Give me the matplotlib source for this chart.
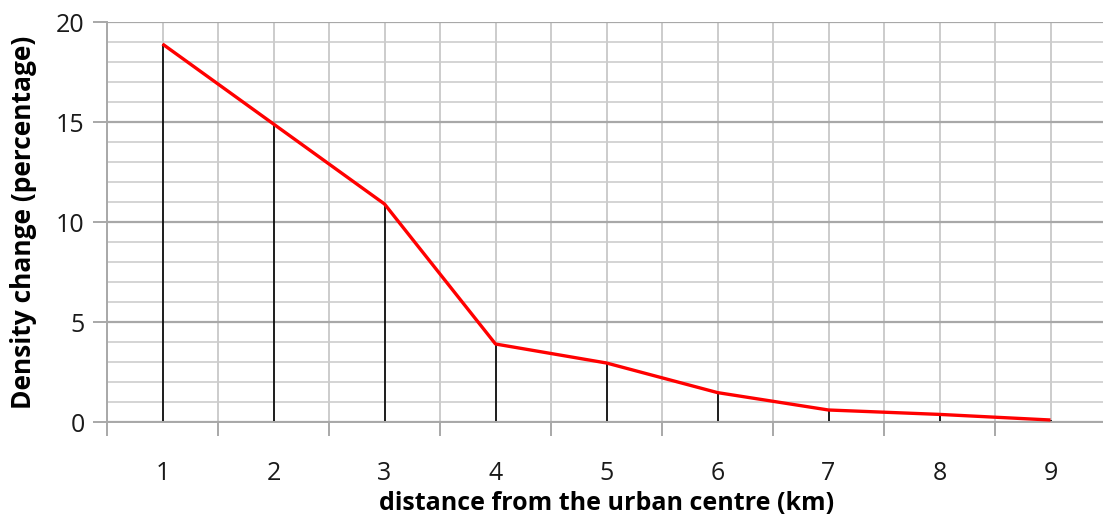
import numpy as np
import matplotlib.pyplot as plt
from matplotlib.ticker import MultipleLocator

# density change by distance band
distance_km = [1, 2, 3, 4, 5, 6, 7, 8, 9]
density_change = [18.9, 14.9, 10.9, 3.9, 2.95, 1.47, 0.6, 0.38, 0.1]
y_ticks = [0, 5, 10, 15, 20]

plt.rcParams['font.family'] = ['Open Sans', 'DejaVu Sans']

fig = plt.figure(figsize=(11.03, 5.18), dpi=100)
ax = fig.add_axes([107 / 1103, 96 / 518, 999 / 1103, 400 / 518])

x = np.array(distance_km)
y = np.array(density_change)

ax.set_xlim(0.5, 9.5)
ax.set_ylim(0, 20)

# grid: light lines every unit / half category, darker at the labelled values
for v in np.arange(1, 20):
    if v % 5:
        ax.axhline(v, color='#d4d4d4', lw=1.4, zorder=0)
for v in y_ticks:
    ax.axhline(v, color='#a8a8a8', lw=1.6, zorder=0.5)
for v in np.arange(0.5, 9.6, 0.5):
    ax.axvline(v, color='#cccccc', lw=1.4, zorder=0)

# drop lines from each point to the axis
ax.vlines(x, 0, y, color='black', lw=1.2, zorder=2)
ax.plot(x, y, color='#ff0000', lw=2.4, zorder=3, solid_capstyle='butt')

for s in ['top', 'right']:
    ax.spines[s].set_visible(False)
for s in ['left', 'bottom']:
    ax.spines[s].set_color('#a8a8a8')
    ax.spines[s].set_linewidth(1.4)

ax.set_yticks(y_ticks)
ax.yaxis.set_minor_locator(MultipleLocator(1))
ax.tick_params(axis='y', which='major', length=10, width=1.4, color='#a8a8a8',
               labelsize=18, labelcolor='#1a1a1a', pad=6)
ax.tick_params(axis='y', which='minor', length=0)

ax.set_xticks(distance_km)
ax.set_xticks(np.arange(0.5, 9.6, 1), minor=True)
ax.tick_params(axis='x', which='major', length=0, labelsize=18,
               labelcolor='#1a1a1a', pad=28)
ax.tick_params(axis='x', which='minor', length=10, width=1.4, color='#a8a8a8')

ax.set_xlabel('distance from the urban centre (km)', fontsize=18,
              fontweight='bold', labelpad=4, color='black')
ax.set_ylabel('Density change (percentage)', fontsize=19,
              fontweight='bold', labelpad=14, color='black')

fig.savefig('out.png', dpi=100)
